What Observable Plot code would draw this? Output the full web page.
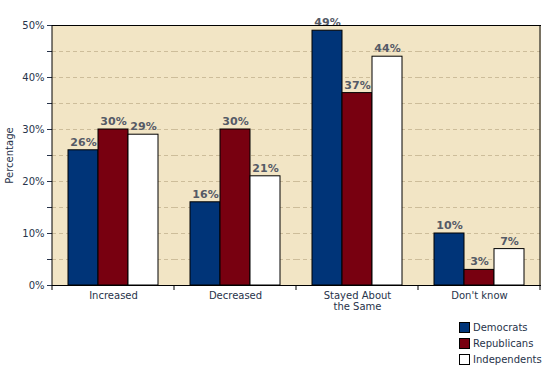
<!DOCTYPE html>
<html><head><meta charset="utf-8">
<script src="https://cdn.jsdelivr.net/npm/d3@7"></script>
<script src="https://cdn.jsdelivr.net/npm/@observablehq/plot@0.6"></script>
<style>
body{margin:0;background:#fff;}
#wrap{position:relative;width:545px;height:367px;font-family:"DejaVu Sans",Verdana,sans-serif;}
#legend{position:absolute;left:459px;top:319px;font-size:10px;color:#27334a;}
#legend div{display:flex;align-items:center;height:16px;}
#legend span.sw{display:inline-block;width:9px;height:9px;border:1px solid #000;margin-right:3px;}
</style>
</head><body>
<div id="wrap"><div id="legend"></div></div>
<script>
const categories = ["Increased", "Decreased", "Stayed About\nthe Same", "Don't know"];
const parties = ["Democrats", "Republicans", "Independents"];
const democrats = [26, 16, 49, 10];
const republicans = [30, 30, 37, 3];
const independents = [29, 21, 44, 7];
const colors = ["#003478", "#780010", "#ffffff"];
const yTicks = [0, 10, 20, 30, 40, 50];
const yMinor = [5, 15, 25, 35, 45];
const gridLines = [5, 10, 15, 20, 25, 30, 35, 40, 45];

const series = [democrats, republicans, independents];
const data = [];
categories.forEach((c, i) => parties.forEach((p, j) => data.push({cat: c, party: p, value: series[j][i]})));

const textColor = "#27334a";
const bg = "#f2e5c5";
const plot = Plot.plot({
  width: 545, height: 367,
  marginLeft: 51, marginRight: 5, marginTop: 25, marginBottom: 82,
  style: {fontFamily: "'DejaVu Sans', Verdana, sans-serif", fontSize: "10px", color: textColor, background: "transparent"},
  fx: {domain: categories, padding: 0, label: null, axis: null},
  x: {domain: parties, paddingInner: 0, paddingOuter: 0.47, axis: null},
  y: {domain: [0, 50], label: null},
  color: {domain: parties, range: colors},
  marks: [
    Plot.frame({fill: bg, stroke: bg, strokeWidth: 1}),
    Plot.gridY(gridLines, {stroke: "#cdbd9a", strokeOpacity: 1, strokeDasharray: "4,3"}),
    Plot.barY(data, {fx: "cat", x: "party", y: "value", fill: "party", stroke: "#000", strokeWidth: 1}),
    Plot.text(data, {fx: "cat", x: "party", y: "value", text: d => d.value + "%", dy: -8, fontWeight: "bold", fontSize: 11, fill: "#555a66"}),
    Plot.axisY(yTicks, {tickFormat: d => d + "%", tickSize: 5, tickPadding: 3, fill: textColor, label: "Percentage", labelAnchor: "center", labelArrow: "none", labelOffset: 47}),
    Plot.axisY(yMinor, {tickFormat: () => "", tickSize: 5, label: null}),
    Plot.axisFx({anchor: "bottom", tickSize: 0, tickPadding: 6, label: null, fill: textColor, lineHeight: 1.1}),
    Plot.frame({anchor: "top", stroke: "#000"}),
    Plot.frame({anchor: "bottom", stroke: "#000"})
  ]
});
document.getElementById("wrap").prepend(plot);

// outer frame sides and facet boundary ticks, positioned via the fx scale
const fx = plot.scale("fx");
const svg = d3.select(plot);
const bounds = categories.map(c => fx.apply(c));
bounds.push(fx.apply(categories[categories.length - 1]) + fx.bandwidth);
const plotTop = 25, plotBottom = 367 - 82;
svg.append("g").selectAll("line").data(bounds).join("line")
  .attr("x1", d => d).attr("x2", d => d).attr("y1", plotBottom).attr("y2", plotBottom + 5)
  .attr("stroke", "#000");
svg.append("g").selectAll("line").data([bounds[0], bounds[bounds.length - 1]]).join("line")
  .attr("x1", d => d).attr("x2", d => d).attr("y1", plotTop).attr("y2", plotBottom)
  .attr("stroke", "#000");

const lg = d3.select("#legend");
parties.forEach((p, i) => {
  const row = lg.append("div");
  row.append("span").attr("class", "sw").style("background", colors[i]);
  row.append("span").text(p);
});
</script>
</body></html>
